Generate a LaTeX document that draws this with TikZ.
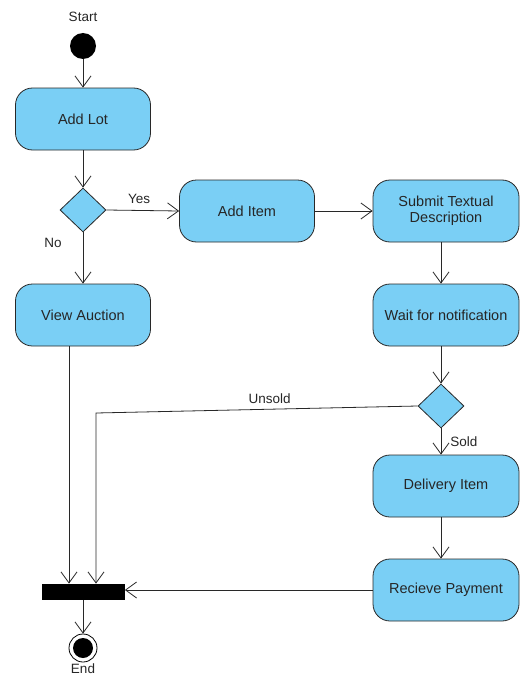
\documentclass[tikz,border=0pt]{standalone}
\usepackage{fontspec}
\setmainfont{Liberation Sans}
\usetikzlibrary{arrows.meta,positioning,shapes.geometric,calc}
\definecolor{actfill}{RGB}{122,207,245}
\definecolor{actline}{RGB}{40,40,40}
\tikzset{
  every picture/.append style={line width=0.8pt},
  every node/.append style={font=\fontsize{14.5}{16}\selectfont, text=black!85},
}
\tikzset{
  activity/.style={draw=actline, fill=actfill, rounded corners=17pt, align=center, minimum width=135pt, minimum height=62pt, inner sep=2pt},
  decision/.style={diamond, draw=actline, fill=actfill, minimum width=46pt, minimum height=44pt, inner sep=0pt},
  flow/.style={-{Straight Barb[length=11pt,width=16pt]}, draw=actline}
}
\begin{document}
\begin{tikzpicture}[
  x=1pt, y=-1pt,
  initial/.style={circle, fill=black, minimum size=26pt, inner sep=0pt},
  final/.style={circle, draw=black, fill=white, minimum size=28pt, inner sep=0pt},
  syncbar/.style={fill=black, minimum width=83pt, minimum height=16pt, inner sep=0pt},
  caption/.style={inner sep=1pt, font=\fontsize{13.5}{15}\selectfont},
]
\useasboundingbox (0,0) rectangle (520,677);

% --- Start ---
\node[caption] (startlabel) at (83,17) {Start};
\node[initial] (start) at (83,46) {};

% --- Left column ---
\node[activity] (addlot) at (83,119) {Add Lot};
\node[decision] (lotdec) at (83,210) {};
\node[activity] (viewauction) at (83,315) {View Auction};

% --- Right column ---
\node[activity] (additem) at (247,211) {Add Item};
\node[activity, minimum width=146pt] (submit) at (446,211) {Submit Textual\\Description};
\node[activity, minimum width=146pt] (wait) at (446,315) {Wait for notification};
\node[decision] (solddec) at (441,406) {};
\node[activity, minimum width=146pt] (delivery) at (446,486) {Delivery Item};
\node[activity, minimum width=146pt] (payment) at (446,590) {Recieve Payment};

% --- Join and end ---
\node[syncbar] (join) at (83,592) {};
\node[final] (end) at (83,648) {};
\fill (end.center) circle (10);
\node[caption] (endlabel) at (83,669) {End};

% --- Flows ---
\draw[flow] (start) -- (addlot);
\draw[flow] (addlot) -- (lotdec);
\draw[flow] (lotdec.east) -- node[pos=0.45, above=5pt, caption] {Yes} (additem.west);
\draw[flow] (lotdec.south) -- node[pos=0.2, left=20pt, caption] {No} (viewauction.north);
\draw[flow] (additem.east) -- (submit.west);
\draw[flow] (submit.south -| solddec) -- (wait.north -| solddec);
\draw[flow] (wait.south -| solddec) -- (solddec.north);
\draw[flow] (solddec.south) -- node[right=8pt, caption] {Sold} (delivery.north -| solddec);
\draw[flow] (delivery.south -| solddec) -- (payment.north -| solddec);
\draw[flow] (payment.west) -- (payment.west -| join.east);

% Unsold goes back to the join bar
\coordinate (unsoldturn) at (96,413);
\draw[flow] (solddec.west) -- node[pos=0.46, above=4pt, caption] {Unsold} (unsoldturn) -- (unsoldturn |- join.north);
\draw[flow] ([xshift=-14pt]viewauction.south) -- ([xshift=-14pt]viewauction.south |- join.north);
\draw[flow] (join) -- (end);

\end{tikzpicture}
\end{document}
